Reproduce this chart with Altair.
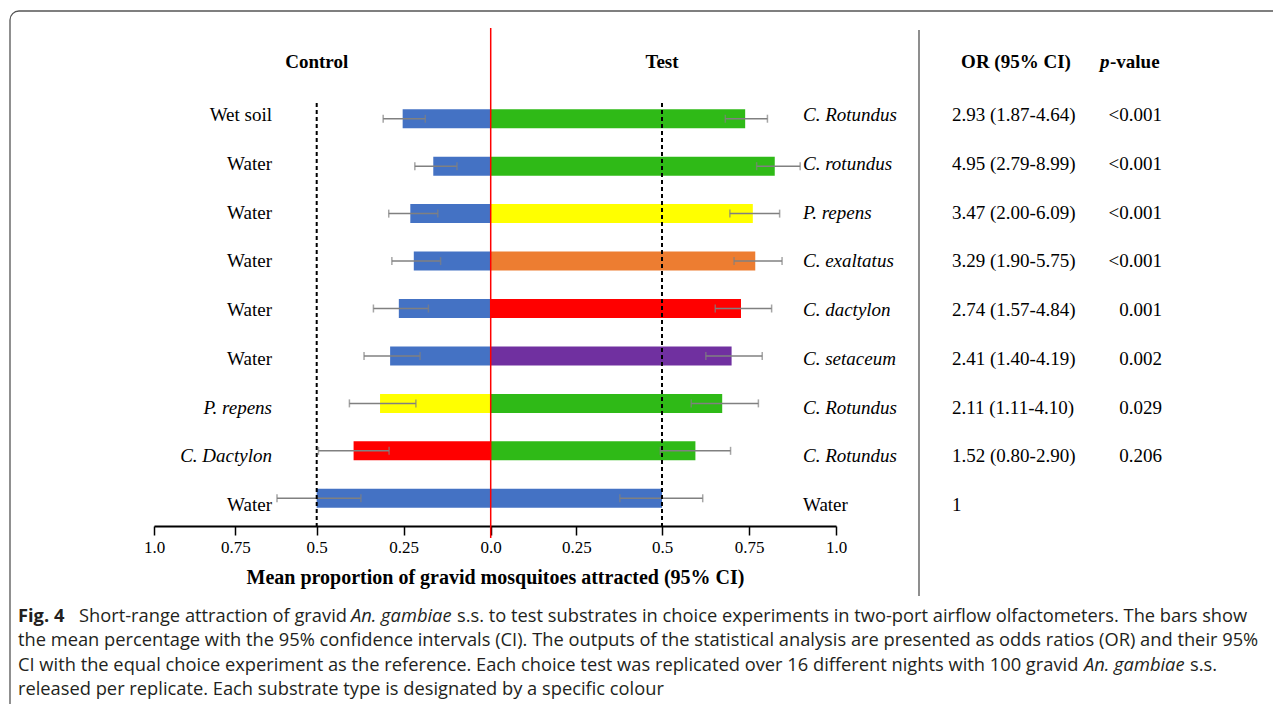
import altair as alt
import pandas as pd

# ---------------- data ----------------
rows = list(range(9))
control_names = ["Wet soil", "Water", "Water", "Water", "Water", "Water",
                 "P. repens", "C. Dactylon", "Water"]
test_names = ["C. Rotundus", "C. rotundus", "P. repens", "C. exaltatus",
              "C. dactylon", "C. setaceum", "C. Rotundus", "C. Rotundus", "Water"]
control_mean = [0.253, 0.165, 0.231, 0.221, 0.264, 0.289, 0.318, 0.394, 0.500]
control_lo = [0.188, 0.097, 0.152, 0.144, 0.179, 0.203, 0.215, 0.292, 0.373]
control_hi = [0.309, 0.218, 0.293, 0.284, 0.337, 0.364, 0.406, 0.495, 0.622]
test_mean = [0.739, 0.824, 0.761, 0.768, 0.727, 0.700, 0.673, 0.596, 0.500]
test_lo = [0.682, 0.772, 0.695, 0.707, 0.653, 0.626, 0.584, 0.495, 0.377]
test_hi = [0.803, 0.897, 0.838, 0.845, 0.815, 0.788, 0.777, 0.697, 0.617]
or_ci = ["2.93 (1.87-4.64)", "4.95 (2.79-8.99)", "3.47 (2.00-6.09)",
         "3.29 (1.90-5.75)", "2.74 (1.57-4.84)", "2.41 (1.40-4.19)",
         "2.11 (1.11-4.10)", "1.52 (0.80-2.90)", "1"]
p_values = ["<0.001", "<0.001", "<0.001", "<0.001", "0.001", "0.002",
            "0.029", "0.206", ""]
tick_values = [-1, -0.75, -0.5, -0.25, 0, 0.25, 0.5, 0.75, 1]
tick_labels = ["1.0", "0.75", "0.5", "0.25", "0.0", "0.25", "0.5", "0.75", "1.0"]
reference_lines = [-0.5, 0.5]

substrates = ["water", "wet soil", "c. rotundus", "p. repens",
              "c. exaltatus", "c. dactylon", "c. setaceum"]
substrate_colors = ["#4472C4", "#4472C4", "#2FBA17", "#FFFF00",
                    "#ED7D31", "#FF0000", "#7030A0"]

caption_l1a = "Fig. 4"
caption_l1b = "Short-range attraction of gravid"
caption_l1c = "An. gambiae"
caption_l1d = "s.s. to test substrates in choice experiments in two-port airflow olfactometers. The bars show"
caption_l2 = "the mean percentage with the 95% confidence intervals (CI). The outputs of the statistical analysis are presented as odds ratios (OR) and their 95%"
caption_l3a = "CI with the equal choice experiment as the reference. Each choice test was replicated over 16 different nights with 100 gravid"
caption_l3b = "An. gambiae"
caption_l3c = "s.s."
caption_l4 = "released per replicate. Each substrate type is designated by a specific colour"

# ---------------- tables ----------------
bars = []
for i in rows:
    bars.append(dict(row=i, v=-control_mean[i], lo=-control_lo[i], hi=-control_hi[i],
                     key=control_names[i].lower(), zero=0))
    bars.append(dict(row=i, v=test_mean[i], lo=test_lo[i], hi=test_hi[i],
                     key=test_names[i].lower(), zero=0))
bars = pd.DataFrame(bars)

labels = pd.DataFrame({
    "row": rows,
    "control": control_names,
    "test": test_names,
    "or_ci": or_ci,
    "p": p_values,
})
labels["c_it"] = ~labels["control"].isin(["Water", "Wet soil"])
labels["t_it"] = ~labels["test"].isin(["Water", "Wet soil"])

one = pd.DataFrame({"a": [0]})
refs = pd.DataFrame({"x": reference_lines})

SERIF = "Liberation Serif"
SANS = "Open Sans"

label_expr = ""
for v, t in zip(tick_values, tick_labels):
    label_expr += f"datum.value == {v} ? '{t}' : "
label_expr += "''"

xscale = alt.Scale(domain=[-1, -0.5, 0, 0.5, 1],
                   range=[146, 308.7, 482.7, 654, 828], nice=False, zero=False)
xaxis = alt.Axis(values=tick_values, labelExpr=label_expr, grid=False,
                 domainColor="black", domainWidth=2, tickColor="black",
                 tickWidth=1.5, tickSize=9, labelFont=SERIF, labelFontSize=17,
                 labelColor="black", labelPadding=4, labelFlush=False,
                 labelOverlap=False,
                 title="Mean proportion of gravid mosquitoes attracted (95% CI)",
                 titleFont=SERIF, titleFontSize=20, titleFontWeight="bold",
                 titleColor="black", titlePadding=12)


def X(field=None, datum=None):
    if datum is not None:
        return alt.X(datum=datum, type="quantitative", scale=xscale, axis=xaxis)
    return alt.X(field, type="quantitative", scale=xscale, axis=xaxis)


ybar = alt.Y("row:O", scale=alt.Scale(domain=rows, range=[87, 514],
                                      paddingInner=0.6, paddingOuter=0.3),
             axis=None)
ytxt = alt.Y("row:O", scale=alt.Scale(type="point", domain=rows,
                                      range=[107, 497], padding=0),
             axis=None)

color = alt.Color("key:N", scale=alt.Scale(domain=substrates, range=substrate_colors),
                  legend=None)

bar_layer = alt.Chart(bars).mark_bar(stroke=None).encode(
    x=X("v"), x2="zero", y=ybar, color=color)
err_layer = alt.Chart(bars).mark_rule(color="#808080", strokeWidth=1.5).encode(
    x=X("lo"), x2="hi", y=ybar)
cap_lo = alt.Chart(bars).mark_tick(color="#808080", thickness=1.5, size=8).encode(
    x=X("lo"), y=ybar)
cap_hi = alt.Chart(bars).mark_tick(color="#808080", thickness=1.5, size=8).encode(
    x=X("hi"), y=ybar)

red_line = alt.Chart(one).mark_rule(color="#FF0000", strokeWidth=1.5).encode(
    x=X(datum=0), y=alt.value(20), y2=alt.value(530))
dash_lines = alt.Chart(refs).mark_rule(color="black", strokeWidth=2,
                                       strokeDash=[4, 3]).encode(
    x=X("x"), y=alt.value(95), y2=alt.value(518))


def txt(chart_text, x, y, **kw):
    props = dict(font=SERIF, fontSize=19, color="black", baseline="middle")
    props.update(kw)
    return alt.Chart(one).mark_text(text=chart_text, **props).encode(x=x, y=y)


head_control = txt("Control", X(datum=-0.5), alt.value(54), fontWeight="bold")
head_test = txt("Test", X(datum=0.5), alt.value(54), fontWeight="bold")
head_or = txt("OR (95% CI)", alt.value(1008), alt.value(54), fontWeight="bold")
head_p1 = txt("p", alt.value(1092), alt.value(54), fontWeight="bold",
              fontStyle="italic", align="left")
head_p2 = txt("-value", alt.value(1102), alt.value(54), fontWeight="bold",
              align="left")

base_lab = alt.Chart(labels)
ctrl_n = base_lab.transform_filter("!datum.c_it").mark_text(
    font=SERIF, fontSize=19, color="black", baseline="middle", align="right").encode(
    x=alt.value(264), y=ytxt, text="control:N")
ctrl_i = base_lab.transform_filter("datum.c_it").mark_text(
    font=SERIF, fontSize=19, color="black", baseline="middle", align="right",
    fontStyle="italic").encode(x=alt.value(264), y=ytxt, text="control:N")
test_n = base_lab.transform_filter("!datum.t_it").mark_text(
    font=SERIF, fontSize=19, color="black", baseline="middle", align="left").encode(
    x=alt.value(795), y=ytxt, text="test:N")
test_i = base_lab.transform_filter("datum.t_it").mark_text(
    font=SERIF, fontSize=19, color="black", baseline="middle", align="left",
    fontStyle="italic").encode(x=alt.value(795), y=ytxt, text="test:N")
or_txt = base_lab.mark_text(font=SERIF, fontSize=19, color="black",
                            baseline="middle", align="left").encode(
    x=alt.value(944), y=ytxt, text="or_ci:N")
p_txt = base_lab.mark_text(font=SERIF, fontSize=19, color="black",
                           baseline="middle", align="right").encode(
    x=alt.value(1154), y=ytxt, text="p:N")

separator = alt.Chart(one).mark_rule(color="#444444", strokeWidth=1.2).encode(
    x=alt.value(911), y=alt.value(22), y2=alt.value(588))
frame = alt.Chart(one).mark_rect(fillOpacity=0, stroke="#555555", strokeWidth=1.3,
                                 cornerRadius=9).encode(
    x=alt.value(2), x2=alt.value(1400), y=alt.value(3), y2=alt.value(900))


def cap(t, x, y, **kw):
    props = dict(font=SANS, fontSize=18.3, color="#231F20", baseline="middle",
                 align="left")
    props.update(kw)
    return alt.Chart(one).mark_text(text=t, **props).encode(
        x=alt.value(x), y=alt.value(y))


captions = [
    cap(caption_l1a, 10, 609, fontWeight="bold"),
    cap(caption_l1b, 71, 609),
    cap(caption_l1c, 343, 609, fontStyle="italic"),
    cap(caption_l1d, 449, 609),
    cap(caption_l2, 10, 633),
    cap(caption_l3a, 10, 658),
    cap(caption_l3b, 1076, 658, fontStyle="italic"),
    cap(caption_l3c, 1182, 658),
    cap(caption_l4, 10, 682),
]

chart = alt.layer(
    frame, bar_layer, err_layer, cap_lo, cap_hi, dash_lines, red_line,
    head_control, head_test, head_or, head_p1, head_p2,
    ctrl_n, ctrl_i, test_n, test_i, or_txt, p_txt, separator, *captions
).resolve_scale(y="independent").properties(
    width=1265, height=518, background="white",
    autosize=alt.AutoSizeParams(type="none"),
    padding={"left": 0, "top": 0, "right": 0, "bottom": 178},
).configure_view(stroke=None)

chart.save("out.html", embed_options={"renderer": "svg", "actions": False})
